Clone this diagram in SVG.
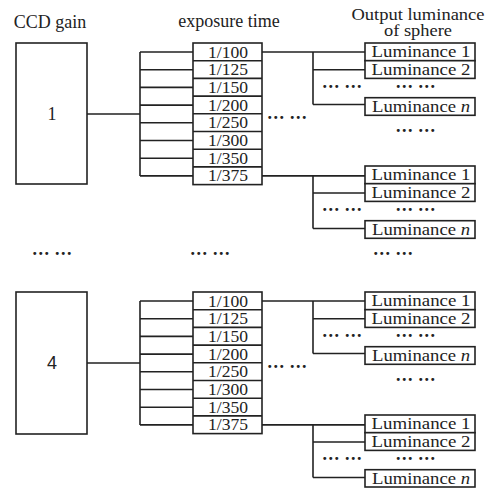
<svg xmlns="http://www.w3.org/2000/svg" width="487" height="488" viewBox="0 0 487 488">
<style>
  .bx{fill:#fff;stroke:#222;stroke-width:1.6}
  .ln{fill:none;stroke:#222;stroke-width:1.6}
  text{font-family:"Liberation Serif","Times New Roman",serif;font-size:18px;fill:#222;text-anchor:middle}
  .c{font-size:16px}
  .dots{font-size:18px;font-weight:bold}
  .it{font-style:italic}
</style>
<rect width="487" height="488" fill="#fff"/>
<g id="headers">
  <text x="50" y="28">CCD gain</text>
  <text x="229" y="27">exposure time</text>
  <text class="c" x="418" y="20" textLength="133" lengthAdjust="spacingAndGlyphs">Output luminance</text>
  <text class="c" x="418" y="35.5" textLength="68" lengthAdjust="spacingAndGlyphs">of sphere</text>
</g>

<g id="connectors">
  <path class="ln" d="M87 114H140M140 52V176M140 52H193M140 69.7H193M140 87.4H193M140 105.1H193M140 122.8H193M140 140.5H193M140 158.2H193M140 175.9H193"/>
  <path class="ln" d="M262 52H365M313 52V104.5M313 69.7H365M313 104.5H365"/>
  <path class="ln" d="M262 175.9H365M313 175.9V228.5M313 193H365M313 228.5H365"/>
  <path class="ln" d="M87 363H140M140 301V425M140 301H193M140 318.7H193M140 336.4H193M140 354.1H193M140 371.8H193M140 389.5H193M140 407.2H193M140 424.9H193"/>
  <path class="ln" d="M262 301H365M313 301V353.5M313 318.7H365M313 353.5H365"/>
  <path class="ln" d="M262 424.9H365M313 424.9V477.5M313 442H365M313 477.5H365"/>
</g>

<g id="gain-1">
  <rect class="bx" x="16" y="43" width="71" height="141"/>
  <text x="52" y="120">1</text>
</g>
<g id="gain-4">
  <rect class="bx" x="16" y="292" width="71" height="142"/>
  <text x="52" y="369" style="font-family:'Liberation Sans',Arial,sans-serif">4</text>
</g>

<g id="exposure-1">
  <rect class="bx" x="193" y="43" width="69" height="141.6"/>
  <path class="ln" d="M193 60.7H262M193 78.4H262M193 96.1H262M193 113.8H262M193 131.5H262M193 149.2H262M193 166.9H262"/>
  <text class="c" x="228" y="57.5" textLength="40" lengthAdjust="spacingAndGlyphs">1/100</text>
  <text class="c" x="228" y="75.2" textLength="40" lengthAdjust="spacingAndGlyphs">1/125</text>
  <text class="c" x="228" y="92.9" textLength="40" lengthAdjust="spacingAndGlyphs">1/150</text>
  <text class="c" x="228" y="110.6" textLength="40" lengthAdjust="spacingAndGlyphs">1/200</text>
  <text class="c" x="228" y="128.3" textLength="40" lengthAdjust="spacingAndGlyphs">1/250</text>
  <text class="c" x="228" y="146" textLength="40" lengthAdjust="spacingAndGlyphs">1/300</text>
  <text class="c" x="228" y="163.7" textLength="40" lengthAdjust="spacingAndGlyphs">1/350</text>
  <text class="c" x="228" y="181.4" textLength="40" lengthAdjust="spacingAndGlyphs">1/375</text>
</g>
<g id="exposure-4">
  <rect class="bx" x="193" y="292" width="69" height="141.6"/>
  <path class="ln" d="M193 309.7H262M193 327.4H262M193 345.1H262M193 362.8H262M193 380.5H262M193 398.2H262M193 415.9H262"/>
  <text class="c" x="228" y="306.5" textLength="40" lengthAdjust="spacingAndGlyphs">1/100</text>
  <text class="c" x="228" y="324.2" textLength="40" lengthAdjust="spacingAndGlyphs">1/125</text>
  <text class="c" x="228" y="341.9" textLength="40" lengthAdjust="spacingAndGlyphs">1/150</text>
  <text class="c" x="228" y="359.6" textLength="40" lengthAdjust="spacingAndGlyphs">1/200</text>
  <text class="c" x="228" y="377.3" textLength="40" lengthAdjust="spacingAndGlyphs">1/250</text>
  <text class="c" x="228" y="395" textLength="40" lengthAdjust="spacingAndGlyphs">1/300</text>
  <text class="c" x="228" y="412.7" textLength="40" lengthAdjust="spacingAndGlyphs">1/350</text>
  <text class="c" x="228" y="430.4" textLength="40" lengthAdjust="spacingAndGlyphs">1/375</text>
</g>

<g id="luminance-1-100">
  <rect class="bx" x="365" y="43" width="110" height="17.7"/>
  <rect class="bx" x="365" y="60.7" width="110" height="17.7"/>
  <rect class="bx" x="365" y="97.7" width="110" height="17.6"/>
  <text class="c" x="421" y="57" textLength="99" lengthAdjust="spacingAndGlyphs">Luminance 1</text>
  <text class="c" x="421" y="74.7" textLength="99" lengthAdjust="spacingAndGlyphs">Luminance 2</text>
  <text class="c" x="421" y="111.7" textLength="98" lengthAdjust="spacingAndGlyphs">Luminance <tspan class="it">n</tspan></text>
  <text class="dots" x="342" y="93">··· ···</text>
  <text class="dots" x="415.5" y="93">··· ···</text>
</g>
<g id="luminance-1-375">
  <rect class="bx" x="365" y="166" width="110" height="17.7"/>
  <rect class="bx" x="365" y="183.7" width="110" height="17.7"/>
  <rect class="bx" x="365" y="220.7" width="110" height="17.6"/>
  <text class="c" x="421" y="180" textLength="99" lengthAdjust="spacingAndGlyphs">Luminance 1</text>
  <text class="c" x="421" y="197.7" textLength="99" lengthAdjust="spacingAndGlyphs">Luminance 2</text>
  <text class="c" x="421" y="234.7" textLength="98" lengthAdjust="spacingAndGlyphs">Luminance <tspan class="it">n</tspan></text>
  <text class="dots" x="342" y="216">··· ···</text>
  <text class="dots" x="415.5" y="216">··· ···</text>
</g>
<g id="luminance-4-100">
  <rect class="bx" x="365" y="292" width="110" height="17.7"/>
  <rect class="bx" x="365" y="309.7" width="110" height="17.7"/>
  <rect class="bx" x="365" y="346.7" width="110" height="17.6"/>
  <text class="c" x="421" y="306" textLength="99" lengthAdjust="spacingAndGlyphs">Luminance 1</text>
  <text class="c" x="421" y="323.7" textLength="99" lengthAdjust="spacingAndGlyphs">Luminance 2</text>
  <text class="c" x="421" y="360.7" textLength="98" lengthAdjust="spacingAndGlyphs">Luminance <tspan class="it">n</tspan></text>
  <text class="dots" x="342" y="342">··· ···</text>
  <text class="dots" x="415.5" y="342">··· ···</text>
</g>
<g id="luminance-4-375">
  <rect class="bx" x="365" y="415" width="110" height="17.7"/>
  <rect class="bx" x="365" y="432.7" width="110" height="17.7"/>
  <rect class="bx" x="365" y="469.7" width="110" height="17.3"/>
  <text class="c" x="421" y="429" textLength="99" lengthAdjust="spacingAndGlyphs">Luminance 1</text>
  <text class="c" x="421" y="446.7" textLength="99" lengthAdjust="spacingAndGlyphs">Luminance 2</text>
  <text class="c" x="421" y="483.7" textLength="98" lengthAdjust="spacingAndGlyphs">Luminance <tspan class="it">n</tspan></text>
  <text class="dots" x="342" y="465">··· ···</text>
  <text class="dots" x="415.5" y="465">··· ···</text>
</g>

<g id="ellipses">
  <text class="dots" x="287" y="124">··· ···</text>
  <text class="dots" x="415.5" y="137">··· ···</text>
  <text class="dots" x="287" y="373">··· ···</text>
  <text class="dots" x="415.5" y="386">··· ···</text>
  <text class="dots" x="52" y="260">··· ···</text>
  <text class="dots" x="210" y="260">··· ···</text>
  <text class="dots" x="393" y="260">··· ···</text>
</g>
</svg>
